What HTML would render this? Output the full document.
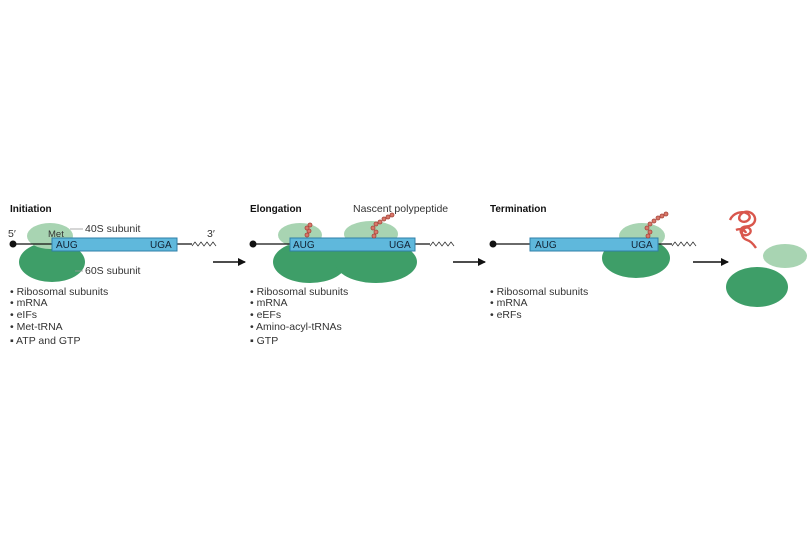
<!DOCTYPE html>
<html><head><meta charset="utf-8"><style>
html,body{margin:0;padding:0;background:#fff;}
svg{display:block;font-family:"Liberation Sans",sans-serif;}
.t{font-size:10px;font-weight:bold;fill:#111}
.l{font-size:10.5px;fill:#333}
.b{font-size:10.5px;fill:#333}
.c{font-size:10px;fill:#123}
.bead{fill:#d9786a;stroke:#a5443a;stroke-width:0.8}
</style></head><body>
<svg width="810" height="540" viewBox="0 0 810 540">
<defs>
<marker id="ah" markerWidth="8" markerHeight="8" refX="7" refY="4" orient="auto" markerUnits="userSpaceOnUse"><path d="M0,0L8,4L0,8z" fill="#111"/></marker>
</defs>
<g>
<text class="t" x="10" y="212">Initiation</text>
<text class="l" x="8" y="237">5′</text>
<text class="l" x="207" y="237">3′</text>
<ellipse cx="52" cy="262" rx="33" ry="20" fill="#3e9e68"/>
<ellipse cx="50" cy="236" rx="23" ry="13" fill="#a8d4b2"/>
<line x1="13" y1="244" x2="192" y2="244" stroke="#111" stroke-width="1.3"/>
<circle cx="13" cy="244" r="3.5" fill="#111"/>
<rect x="52" y="238" width="125" height="13" fill="#5fb8dc" stroke="#2f7fa8"/>
<text class="l" x="48" y="237" style="font-size:9.5px">Met</text>
<text class="c" x="56" y="248">AUG</text>
<text class="c" x="150" y="248">UGA</text>
<path d="M192,246l3,-4l3,4l3,-4l3,4l3,-4l3,4l3,-4l3,4" fill="none" stroke="#333" stroke-width="0.8"/>
<line x1="70" y1="229" x2="83" y2="229" stroke="#999" stroke-width="0.8"/>
<text class="l" x="85" y="232">40S subunit</text>
<line x1="75" y1="271" x2="83" y2="271" stroke="#999" stroke-width="0.8"/>
<text class="l" x="85" y="274">60S subunit</text>
<text class="b" x="10" y="295">• Ribosomal subunits</text>
<text class="b" x="10" y="306">• mRNA</text>
<text class="b" x="10" y="318">• eIFs</text>
<text class="b" x="10" y="330">• Met-tRNA</text>
<text class="b" x="10" y="344">▪ ATP and GTP</text>
<line x1="213" y1="262" x2="245" y2="262" stroke="#111" stroke-width="1.5" marker-end="url(#ah)"/>
</g>
<g>
<text class="t" x="250" y="212">Elongation</text>
<text class="l" x="353" y="212">Nascent polypeptide</text>
<ellipse cx="310" cy="262" rx="37" ry="21" fill="#3e9e68"/>
<ellipse cx="376" cy="262" rx="41" ry="21" fill="#3e9e68"/>
<ellipse cx="300" cy="235" rx="22" ry="12" fill="#a8d4b2"/>
<ellipse cx="371" cy="234" rx="27" ry="13" fill="#a8d4b2"/>
<line x1="253" y1="244" x2="430" y2="244" stroke="#111" stroke-width="1.3"/>
<circle cx="253" cy="244" r="3.5" fill="#111"/>
<rect x="290" y="238" width="125" height="13" fill="#5fb8dc" stroke="#2f7fa8"/>
<text class="c" x="293" y="248">AUG</text>
<text class="c" x="389" y="248">UGA</text>
<path d="M430,246l3,-4l3,4l3,-4l3,4l3,-4l3,4l3,-4l3,4" fill="none" stroke="#333" stroke-width="0.8"/>
<g class="bead"><circle cx="307" cy="235" r="2"/><circle cx="309" cy="231" r="2"/><circle cx="307" cy="228" r="2"/><circle cx="310" cy="225" r="2"/></g>
<g class="bead"><circle cx="374" cy="236" r="2"/><circle cx="376" cy="232" r="2"/><circle cx="373" cy="228" r="2"/><circle cx="376" cy="224" r="2"/><circle cx="380" cy="222" r="2"/><circle cx="384" cy="219" r="2"/><circle cx="388" cy="217" r="2"/><circle cx="392" cy="215" r="2"/></g>
<text class="b" x="250" y="295">• Ribosomal subunits</text>
<text class="b" x="250" y="306">• mRNA</text>
<text class="b" x="250" y="318">• eEFs</text>
<text class="b" x="250" y="330">• Amino-acyl-tRNAs</text>
<text class="b" x="250" y="344">▪ GTP</text>
<line x1="453" y1="262" x2="485" y2="262" stroke="#111" stroke-width="1.5" marker-end="url(#ah)"/>
</g>
<g>
<text class="t" x="490" y="212">Termination</text>
<ellipse cx="636" cy="258" rx="34" ry="20" fill="#3e9e68"/>
<ellipse cx="642" cy="236" rx="23" ry="13" fill="#a8d4b2"/>
<line x1="493" y1="244" x2="672" y2="244" stroke="#111" stroke-width="1.3"/>
<circle cx="493" cy="244" r="3.5" fill="#111"/>
<rect x="530" y="238" width="128" height="13" fill="#5fb8dc" stroke="#2f7fa8"/>
<text class="c" x="535" y="248">AUG</text>
<text class="c" x="631" y="248">UGA</text>
<path d="M672,246l3,-4l3,4l3,-4l3,4l3,-4l3,4l3,-4l3,4" fill="none" stroke="#333" stroke-width="0.8"/>
<g class="bead"><circle cx="648" cy="236" r="2"/><circle cx="650" cy="232" r="2"/><circle cx="647" cy="228" r="2"/><circle cx="650" cy="224" r="2"/><circle cx="654" cy="221" r="2"/><circle cx="658" cy="218" r="2"/><circle cx="662" cy="216" r="2"/><circle cx="666" cy="214" r="2"/></g>
<text class="b" x="490" y="295">• Ribosomal subunits</text>
<text class="b" x="490" y="306">• mRNA</text>
<text class="b" x="490" y="318">• eRFs</text>
<line x1="693" y1="262" x2="728" y2="262" stroke="#111" stroke-width="1.5" marker-end="url(#ah)"/>
</g>
<g>
<ellipse cx="785" cy="256" rx="22" ry="12" fill="#a8d4b2"/>
<ellipse cx="757" cy="287" rx="31" ry="20" fill="#3e9e68"/>
<path d="M730,220c3,-7 12,-10 18,-6c5,4 -2,10 -7,7c-5,-3 1,-11 8,-9c6,2 8,8 4,12c-4,4 -10,1 -12,5c-2,5 4,8 8,5c4,-3 0,-8 -4,-6c-5,3 -4,10 2,12c4,1 7,5 9,8M736,230c4,-2 9,0 10,3" fill="none" stroke="#d9564c" stroke-width="2.4"/>
</g>
</svg>
</body></html>
